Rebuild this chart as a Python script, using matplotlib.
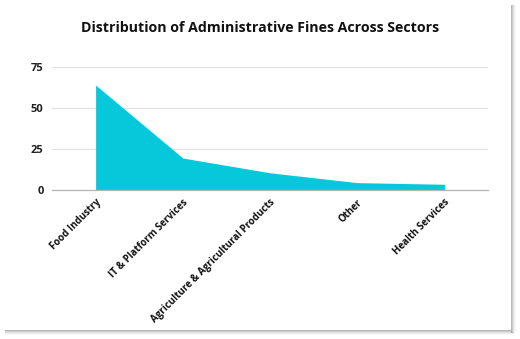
import numpy as np
import matplotlib
matplotlib.use("Agg")
import matplotlib.pyplot as plt
from matplotlib.patches import Rectangle

sectors = ['Food Industry', 'IT & Platform Services',
           'Agriculture & Agricultural Products', 'Other', 'Health Services']
fines = [64, 19.5, 10.5, 4.5, 3.5]
yticks = [0, 25, 50, 75]

plt.rcParams['font.family'] = ['Open Sans', 'DejaVu Sans']

fig = plt.figure(figsize=(5.2, 3.39), dpi=100)
ax = fig.add_axes([0.1, 0.4395, 0.8385, 0.3628])

x = np.arange(len(sectors))
ax.fill_between(x, fines, 0, color='#06c8da', lw=0)

ax.set_xlim(-0.5, len(sectors) - 0.5)
ax.set_ylim(0, 75)
ax.set_yticks(yticks)
ax.set_yticklabels([str(v) for v in yticks], fontsize=8, fontweight='bold', color='#222222')
ax.set_xticks(x)
ax.set_xticklabels(sectors, rotation=45, ha='right', rotation_mode='anchor',
                   fontsize=7, fontweight='bold', color='#111111')
ax.tick_params(length=0, pad=6)
ax.tick_params(axis='x', pad=5)
ax.grid(axis='y', color='#e2e2e2', lw=0.9)
ax.set_axisbelow(True)
for s in ['top', 'right', 'left']:
    ax.spines[s].set_visible(False)
ax.spines['bottom'].set_color('#b5b5b5')
ax.spines['bottom'].set_linewidth(0.9)

fig.text(0.5, 0.918, 'Distribution of Administrative Fines Across Sectors',
         ha='center', va='center', fontsize=10.2, fontweight='bold', color='#111111')

# drop shadow on right and bottom edge of the card
W, H = 520, 339
for i, a in enumerate([0.55, 0.4, 0.25, 0.12, 0.05]):
    fig.patches.append(Rectangle(((511 + i) / W, (H - 333) / H), 1 / W, 328 / H,
                                 transform=fig.transFigure, color='gray', alpha=a, lw=0))
    fig.patches.append(Rectangle((5 / W, (H - 331 - i) / H), (506 + i) / W, 1 / H,
                                 transform=fig.transFigure, color='gray', alpha=a, lw=0))

fig.savefig('out.png', dpi=100)
